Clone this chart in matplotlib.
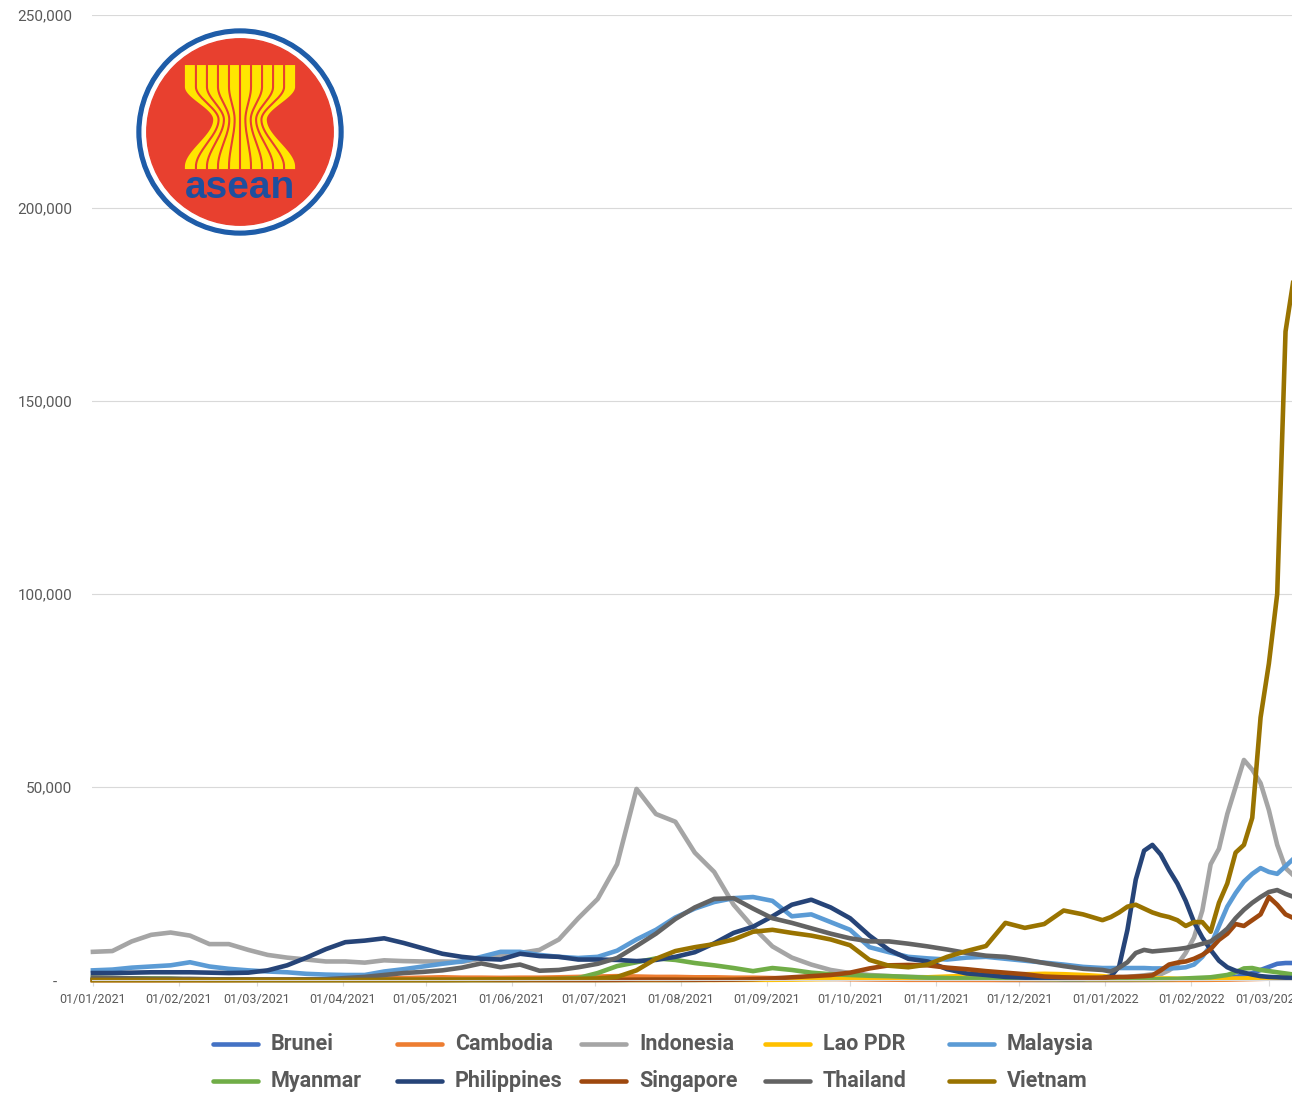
import numpy as np
import pandas as pd
import matplotlib
matplotlib.use('Agg')
import matplotlib.pyplot as plt
import matplotlib.dates as mdates
from matplotlib.lines import Line2D
from matplotlib.patches import Circle, Polygon
from matplotlib.ticker import FuncFormatter

# Точки: раз в неделю в 2021 году, затем каждые 3 дня.
dates = pd.date_range('2021-01-01', periods=53, freq='7D').append(
    pd.date_range('2022-01-03', periods=23, freq='3D'))

countries = ['Brunei', 'Cambodia', 'Indonesia', 'Lao PDR', 'Malaysia',
             'Myanmar', 'Philippines', 'Singapore', 'Thailand', 'Vietnam']
colors = ['#4472C4', '#ED7D31', '#A5A5A5', '#FFC000', '#5B9BD5',
          '#70AD47', '#264478', '#9E480E', '#636363', '#997300']

# Новые случаи в день, тысячи.
brunei = [0, 0, 0, 0, 0, 0, 0, 0, 0, 0,
          0, 0, 0, 0, 0, 0, 0, 0, 0, 0,
          0, 0, 0, 0, 0, 0, 0, 0, 0, 0,
          0, 0.02, 0.1, 0.15, 0.2, 0.25, 0.3, 0.35, 0.3, 0.35,
          0.3, 0.25, 0.2, 0.2, 0.15, 0.1, 0.08, 0.05, 0.04, 0.03,
          0.03, 0.03, 0.03,
          0.03, 0.03, 0.03, 0.04, 0.05, 0.06, 0.08, 0.1, 0.12, 0.15,
          0.2, 0.25, 0.3, 0.4, 0.55, 0.8, 1.2, 1.8, 2.6, 3.4,
          4.2, 4.4, 4.4]
cambodia = [0, 0, 0, 0, 0.01, 0.01, 0.01, 0.02, 0.05, 0.1,
            0.1, 0.1, 0.12, 0.2, 0.3, 0.4, 0.5, 0.6, 0.7, 0.6,
            0.6, 0.55, 0.6, 0.6, 0.7, 0.8, 0.9, 1.0, 0.9, 0.8,
            0.8, 0.7, 0.7, 0.6, 0.6, 0.5, 0.4, 0.3, 0.3, 0.2,
            0.15, 0.1, 0.05, 0.05, 0.04, 0.03, 0.02, 0.02, 0.02, 0.02,
            0.02, 0.02, 0.02,
            0.02, 0.02, 0.02, 0.02, 0.02, 0.02, 0.02, 0.02, 0.03, 0.03,
            0.04, 0.05, 0.06, 0.08, 0.1, 0.15, 0.2, 0.25, 0.3, 0.35,
            0.4, 0.45, 0.5]
indonesia = [7.3, 7.5, 10.0, 11.7, 12.3, 11.5, 9.3, 9.3, 7.8, 6.5,
             5.8, 5.3, 4.8, 4.8, 4.5, 5.1, 4.9, 4.8, 4.8, 4.7,
             5.5, 6.2, 7.0, 7.8, 10.5, 16.0, 21.0, 30.0, 49.5, 43.0,
             41.0, 33.0, 28.0, 19.5, 13.7, 8.7, 5.8, 4.0, 2.6, 1.8,
             1.3, 1.0, 0.8, 0.7, 0.6, 0.5, 0.4, 0.4, 0.3, 0.25,
             0.2, 0.25, 0.3,
             0.4, 0.6, 0.8, 1.0, 1.2, 1.5, 1.5, 2.5, 4.0, 7.0,
             11.0, 18.0, 30.0, 34.0, 43.0, 50.0, 57.0, 54.5, 51.0, 44.0,
             35.0, 29.0, 27.0]
lao = [0, 0, 0, 0, 0, 0, 0, 0, 0, 0,
       0, 0, 0, 0, 0, 0, 0, 0, 0, 0,
       0, 0, 0, 0, 0, 0, 0, 0, 0, 0,
       0.01, 0.02, 0.02, 0.03, 0.04, 0.05, 0.1, 0.2, 0.3, 0.4,
       0.5, 0.55, 0.6, 0.7, 0.9, 1.1, 1.3, 1.4, 1.5, 1.6,
       1.5, 1.3, 1.0,
       0.8, 0.7, 0.6, 0.5, 0.5, 0.4, 0.4, 0.4, 0.3, 0.3,
       0.3, 0.3, 0.3, 0.3, 0.3, 0.4, 0.4, 0.5, 0.5, 0.6,
       0.6, 0.7, 0.7]
malaysia = [2.5, 2.7, 3.2, 3.5, 3.8, 4.6, 3.5, 2.9, 2.5, 2.2,
            2.0, 1.6, 1.4, 1.3, 1.3, 2.2, 2.8, 3.5, 4.2, 4.8,
            6.0, 7.3, 7.3, 6.5, 6.0, 5.7, 6.0, 7.6, 10.5, 13.0,
            16.2, 18.5, 20.2, 21.2, 21.5, 20.5, 16.5, 17.0, 15.0, 13.0,
            8.5, 7.2, 6.0, 5.6, 5.3, 5.8, 6.0, 5.5, 5.0, 4.5,
            4.0, 3.4, 3.1,
            3.1, 3.1, 3.1, 3.1, 3.1, 3.0, 3.0, 3.0, 3.1, 3.3,
            4.0, 6.0, 9.0, 14.0, 19.0, 22.5, 25.5, 27.5, 29.0, 28.0,
            27.5, 29.5, 31.5]
myanmar = [0.6, 0.5, 0.45, 0.4, 0.35, 0.1, 0.05, 0.05, 0.05, 0.05,
           0.03, 0.03, 0.03, 0.03, 0.03, 0.03, 0.03, 0.03, 0.03, 0.03,
           0.03, 0.03, 0.05, 0.1, 0.2, 0.5, 1.8, 3.6, 4.6, 5.6,
           5.2, 4.4, 3.8, 3.1, 2.3, 3.1, 2.6, 1.9, 1.5, 1.3,
           1.1, 1.0, 0.8, 0.6, 0.5, 0.4, 0.35, 0.3, 0.3, 0.25,
           0.2, 0.2, 0.2,
           0.2, 0.2, 0.2, 0.2, 0.2, 0.2, 0.2, 0.25, 0.3, 0.4,
           0.5, 0.6, 0.7, 1.0, 1.3, 2.0, 3.0, 3.1, 2.6, 2.3,
           2.0, 1.7, 1.4]
philippines = [1.8, 1.8, 1.9, 2.0, 2.0, 2.0, 1.9, 1.8, 1.9, 2.5,
               3.8, 5.8, 8.0, 9.8, 10.2, 10.8, 9.6, 8.2, 6.8, 6.0,
               5.5, 5.3, 6.8, 6.2, 6.0, 5.3, 5.3, 5.2, 4.9, 5.2,
               6.0, 7.2, 9.5, 12.2, 13.8, 16.5, 19.5, 20.8, 18.8, 16.0,
               11.5, 7.8, 5.5, 4.8, 2.8, 1.7, 1.3, 0.8, 0.6, 0.4,
               0.3, 0.3, 0.5,
               0.9, 3.5, 13.0, 26.0, 33.5, 35.0, 32.5, 28.5, 25.0, 20.5,
               15.0, 11.0, 7.8, 5.0, 3.3, 2.4, 1.9, 1.4, 1.0, 0.8,
               0.7, 0.6, 0.5]
singapore = [0.03, 0.03, 0.03, 0.03, 0.03, 0.03, 0.03, 0.03, 0.03, 0.03,
             0.03, 0.03, 0.03, 0.03, 0.03, 0.03, 0.03, 0.03, 0.03, 0.03,
             0.03, 0.03, 0.03, 0.03, 0.03, 0.03, 0.03, 0.05, 0.1, 0.12,
             0.1, 0.08, 0.06, 0.1, 0.2, 0.4, 0.7, 1.0, 1.3, 1.9,
             3.0, 3.8, 3.9, 3.8, 3.2, 2.8, 2.3, 1.9, 1.5, 0.9,
             0.7, 0.6, 0.6,
             0.7, 0.8, 0.8, 0.9, 1.0, 1.2, 2.5, 4.0, 4.5, 4.8,
             5.5, 6.5, 8.0, 10.4, 12.0, 14.5, 14.0, 15.5, 17.0, 21.5,
             19.5, 17.0, 16.0]
thailand = [0.6, 0.5, 0.4, 0.3, 0.3, 0.3, 0.2, 0.15, 0.1, 0.1,
            0.1, 0.15, 0.2, 0.5, 0.8, 1.3, 1.8, 2.1, 2.5, 3.2,
            4.3, 3.3, 4.0, 2.4, 2.6, 3.3, 4.2, 5.7, 8.8, 12.0,
            15.8, 18.8, 21.0, 21.2, 18.5, 16.0, 14.8, 13.4, 12.0, 10.8,
            10.0, 10.0, 9.4, 8.7, 7.9, 7.0, 6.3, 6.0, 5.3, 4.4,
            3.6, 2.9, 2.6,
            2.2, 3.2, 4.6, 7.0, 7.8, 7.4, 7.6, 7.8, 8.0, 8.3,
            8.8, 9.4, 10.0, 11.5, 13.3, 16.0, 18.2, 20.0, 21.5, 22.8,
            23.3, 22.3, 21.5]
vietnam = [0.02, 0.02, 0.02, 0.02, 0.02, 0.02, 0.02, 0.02, 0.02, 0.02,
           0.02, 0.02, 0.02, 0.02, 0.02, 0.02, 0.02, 0.02, 0.02, 0.05,
           0.1, 0.2, 0.2, 0.25, 0.3, 0.3, 0.4, 0.8, 2.5, 5.5,
           7.5, 8.5, 9.3, 10.5, 12.5, 13.0, 12.2, 11.5, 10.5, 9.0,
           5.2, 3.7, 3.3, 4.0, 6.0, 7.5, 8.8, 14.8, 13.5, 14.5,
           18.0, 17.0, 15.5,
           16.3, 17.5, 19.0, 19.5, 18.5, 17.5, 16.8, 16.3, 15.5, 14.0,
           15.0, 15.0, 12.5, 20.0, 25.0, 33.0, 35.0, 42.0, 68.0, 82.0,
           100.0, 168.0, 182.0]

series = [brunei, cambodia, indonesia, lao, malaysia,
          myanmar, philippines, singapore, thailand, vietnam]

plt.rcParams['font.family'] = ['Roboto', 'DejaVu Sans']
W, H = 1292, 1094
fig = plt.figure(figsize=(W / 100, H / 100), dpi=100)
fig.patch.set_facecolor('white')

ax = fig.add_axes([92 / W, 1 - 980 / H, 1 - 92 / W, 965 / H])
for name, vals, col in zip(countries, series, colors):
    ax.plot(dates, vals, color=col, lw=3.3, label=name,
            solid_joinstyle='round', clip_on=False)

ax.set_ylim(0, 250)
ax.set_yticks([0, 50, 100, 150, 200, 250])
ax.yaxis.set_major_formatter(FuncFormatter(
    lambda v, p: '-    ' if v == 0 else f'{int(v * 1000):,}'))
ax.set_xlim(pd.Timestamp('2021-01-01') - pd.Timedelta(hours=8),
            pd.Timestamp('2022-03-09') + pd.Timedelta(hours=8))
ax.xaxis.set_major_locator(mdates.MonthLocator())
ax.xaxis.set_major_formatter(mdates.DateFormatter('%d/%m/%Y'))

ax.grid(axis='y', color='#D9D9D9', lw=0.8)
ax.set_axisbelow(True)
for s in ['top', 'right', 'left']:
    ax.spines[s].set_visible(False)
ax.spines['bottom'].set_color('#D9D9D9')
ax.tick_params(axis='y', length=0, pad=14, labelsize=11, labelcolor='#595959')
ax.tick_params(axis='x', length=4, color='#D9D9D9', pad=5, labelsize=9,
               labelcolor='#595959')

# Легенда: две строки по пять.
for i, (name, col) in enumerate(zip(countries, colors)):
    x0 = 213 + 184 * (i % 5)
    y0 = 1044 + 37 * (i // 5)
    fig.add_artist(Line2D([x0 / W, (x0 + 45) / W], [1 - y0 / H, 1 - y0 / H],
                          color=col, lw=3.3, solid_capstyle='round'))
    fig.text((x0 + 58) / W, 1 - y0 / H, name, fontsize=15.5, fontweight='bold',
             color='#595959', va='center', ha='left')

# Эмблема АСЕАН.
lx = fig.add_axes([(240 - 105) / W, 1 - (132 + 105) / H, 210 / W, 210 / H])
lx.set_xlim(-105 / 103, 105 / 103)
lx.set_ylim(-105 / 103, 105 / 103)
lx.set_aspect('equal')
lx.axis('off')
red = '#E8402F'
lx.add_patch(Circle((0, 0), 1.0, color='#1E5CA8'))
lx.add_patch(Circle((0, 0), 0.95, color='white'))
lx.add_patch(Circle((0, 0), 0.905, color=red))

ys = np.linspace(-0.36, 0.65, 300)
ym, ytop, ybot = 0.12, 0.65, -0.36
s = np.where(ys >= ym,
             np.clip((ys - ym) / ((ytop - ym) * 0.6), 0, 1),
             np.clip((ym - ys) / ((ym - ybot) * 0.95), 0, 1))
s = s * s * (3 - 2 * s)
wd = 0.26 + (0.535 - 0.26) * s
lx.add_patch(Polygon(np.column_stack([np.r_[-wd, wd[::-1]], np.r_[ys, ys[::-1]]]),
                     closed=True, color='#FFE600', lw=0))
for u in np.linspace(-0.8, 0.8, 9):
    lx.plot(u * wd, ys, color=red, lw=1.5, solid_capstyle='butt')
lx.text(0, -0.64, 'asean', fontsize=28, fontweight='bold', color='#1E4F9E',
        family='Liberation Sans', ha='center', va='baseline')

fig.savefig('out.png', dpi=100)
